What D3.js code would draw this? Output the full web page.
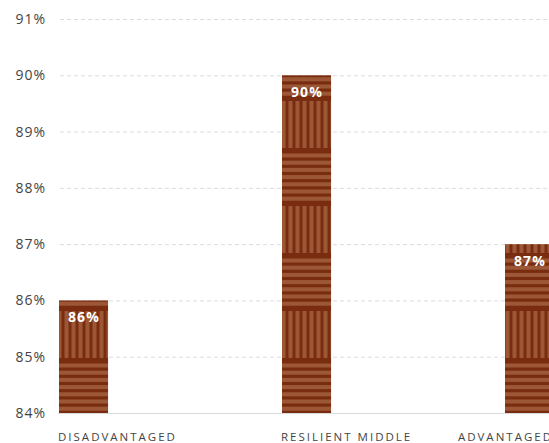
<!DOCTYPE html>
<html><head><meta charset="utf-8">
<script src="https://cdn.jsdelivr.net/npm/d3@7"></script>
<style>
html,body{margin:0;padding:0;background:#fff;overflow:hidden}
svg{display:block}
</style></head>
<body>
<script>
const categories = ["DISADVANTAGED", "RESILIENT MIDDLE", "ADVANTAGED"];
const values = [86, 90, 87];
const yTicks = [84, 85, 86, 87, 88, 89, 90, 91];

const W = 549, H = 443;
const svg = d3.select("body").append("svg").attr("width", W).attr("height", H);

const y = d3.scaleLinear().domain([84, 91]).range([413, 19]);
const x = d3.scaleBand().domain(categories).range([59, 554.06]).paddingInner(0.78).paddingOuter(0).align(0);

// pattern
const dark = "#7a2c10", light = "#9c5836";
const defs = svg.append("defs");
const pat = defs.append("pattern").attr("id", "weave").attr("patternUnits", "userSpaceOnUse")
  .attr("x", 0).attr("y", 413).attr("width", 7).attr("height", 105);
pat.append("rect").attr("width", 7).attr("height", 105).attr("fill", dark);
// vertical block 0..52.5
pat.append("rect").attr("x", 1.5).attr("y", 3).attr("width", 4).attr("height", 47).attr("fill", light);
// horizontal block 52.5..105
for (let i = 0; i < 7; i++) {
  pat.append("rect").attr("x", 0).attr("y", 55.5 + i * 7.2).attr("width", 7).attr("height", 4).attr("fill", light);
}

const font = "'Open Sans', sans-serif";

// grid
const g = svg.append("g");
g.selectAll("line.grid").data(yTicks.filter(d => d !== 84)).enter().append("line")
  .attr("x1", 60).attr("x2", W).attr("y1", d => y(d) + 0.5).attr("y2", d => y(d) + 0.5)
  .attr("stroke", "#dcdcdc").attr("stroke-dasharray", "4,3").attr("stroke-width", 1);
g.append("line").attr("x1", 58).attr("x2", W).attr("y1", y(84) + 0.5).attr("y2", y(84) + 0.5)
  .attr("stroke", "#d9d9d9").attr("stroke-width", 1.2);

// y labels
g.selectAll("text.yl").data(yTicks).enter().append("text")
  .attr("x", 46).attr("y", d => y(d) + 5).attr("text-anchor", "end")
  .attr("font-family", font).attr("font-size", 14).attr("letter-spacing", 1).attr("fill", "#444")
  .text(d => d + "%");

// bars
g.selectAll("rect.bar").data(values).enter().append("rect")
  .attr("x", (d, i) => x(categories[i])).attr("y", d => y(d))
  .attr("width", x.bandwidth()).attr("height", d => y(84) - y(d))
  .attr("fill", "url(#weave)");

// value labels
g.selectAll("text.vl").data(values).enter().append("text")
  .attr("x", (d, i) => x(categories[i]) + x.bandwidth() / 2 + 0.5).attr("y", d => y(d) + 21.5)
  .attr("text-anchor", "middle").attr("font-family", font).attr("font-weight", "bold")
  .attr("font-size", 14).attr("letter-spacing", 1.2).attr("fill", "#fff").text(d => d + "%");

// x labels
g.selectAll("text.xl").data(categories).enter().append("text")
  .attr("x", (d, i) => i < 2 ? x(d) - 1 : 553)
  .attr("y", 441).attr("text-anchor", (d, i) => i < 2 ? "start" : "end")
  .attr("font-family", font).attr("font-size", 11.5).attr("letter-spacing", 2)
  .attr("fill", "#444").text(d => d);
</script>
</body></html>
